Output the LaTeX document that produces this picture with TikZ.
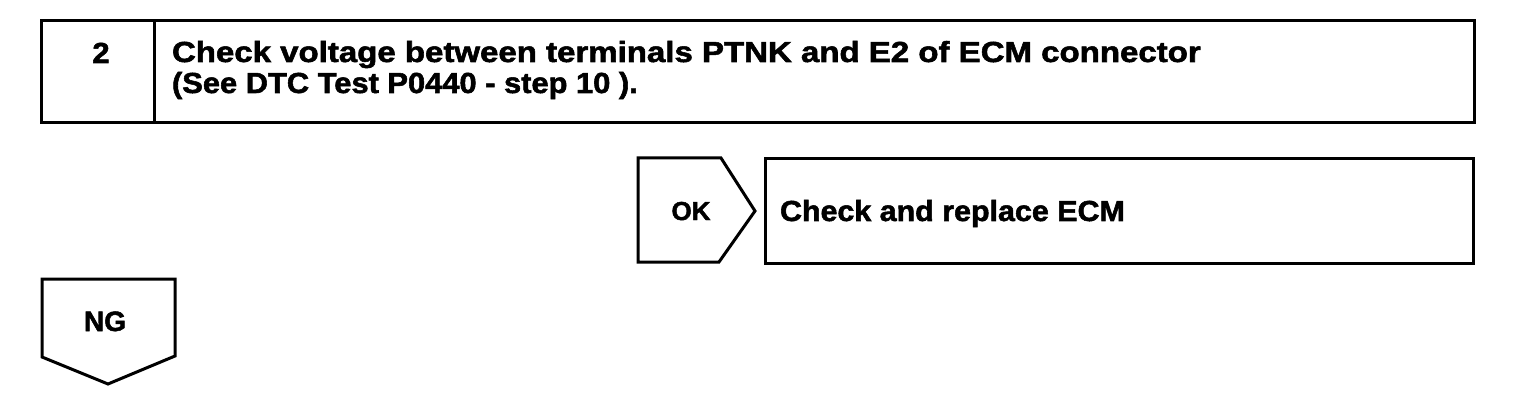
\documentclass[tikz,border=0pt]{standalone}
\usepackage{fontspec}
\setmainfont{Liberation Sans}[BoldFeatures={FakeBold=1.8}]
\tikzset{
  frame/.style={draw=black, line width=3pt, line join=miter},
  txt/.style={inner sep=0pt, outer sep=0pt, font=\bfseries\fontsize{29}{31}\selectfont},
  tag/.style={inner sep=0pt, outer sep=0pt, font=\bfseries\fontsize{26}{30}\selectfont}
}
\begin{document}
\begin{tikzpicture}[x=1pt,y=-1pt]
\useasboundingbox (0,0) rectangle (1520,406);
% step box
\draw[frame] (41,21) rectangle (1474,123);
\draw[frame] (154,21) -- (154,123);
\node[txt, anchor=base] (num) at (101,63) {\scalebox{1.07}[1]{2}};
\node[txt, anchor=base west] (line1) at (172,62) {\scalebox{1.138}[1]{Check voltage between terminals PTNK and E2 of ECM connector}};
\node[txt, anchor=base west] (line2) at (172,93) {\scalebox{1.064}[1]{(See DTC Test P0440 - step 10 ).}};
% OK arrow and result box
\draw[frame] (638,158) -- (721,158) -- (755,211) -- (719,262) -- (638,262) -- cycle;
\node[tag, anchor=base] (ok) at (691,220) {OK};
\draw[frame] (765,159) rectangle (1473,263);
\node[txt, anchor=base west] (res) at (780,221) {\scalebox{1.049}[1]{Check and replace ECM}};
% NG arrow
\draw[frame] (42,279) -- (175,279) -- (175,356) -- (108,384) -- (42,357) -- cycle;
\node[tag, anchor=base, font=\bfseries\fontsize{28}{30}\selectfont] (ng) at (105,331) {NG};
\end{tikzpicture}
\end{document}
